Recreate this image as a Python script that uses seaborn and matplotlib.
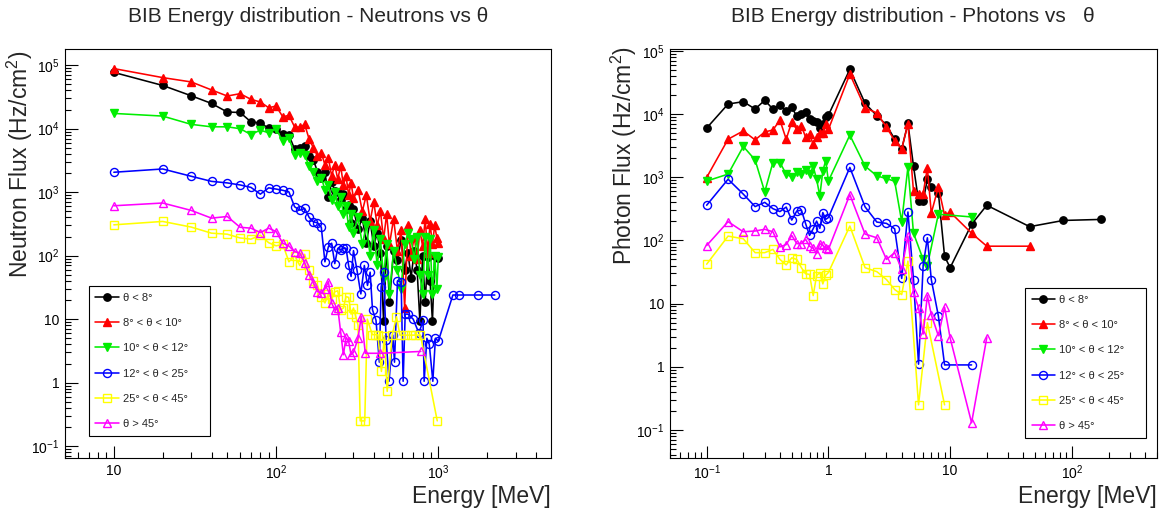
import numpy as np
import pandas as pd
import matplotlib
matplotlib.use("Agg")
import matplotlib.pyplot as plt
import seaborn as sns
from matplotlib.ticker import FixedLocator, FuncFormatter, NullFormatter

# ---------------- data ----------------
LABELS = ["θ < 8°", "8° < θ < 10°", "10° < θ < 12°",
          "12° < θ < 25°", "25° < θ < 45°", "θ > 45°"]

# Neutrons (energy in MeV, flux in Hz/cm2)
N_E = [10, 20, 30, 40, 50, 60, 70, 80, 90, 100,
       110, 120, 130, 140, 150, 160, 170, 180, 190, 200,
       210, 220, 230, 240, 250, 260, 270, 280, 290, 300,
       320, 340, 360, 380, 400, 420, 440, 460, 480, 500,
       530, 560, 590, 620, 650, 680, 710, 740, 770, 800,
       830, 860, 890, 920, 950, 980, 1000]
N_BLACK = [77000, 48000, 33000, 25000, 18300, 18000, 12800, 12300, 10200, 9800,
           8200, 7900, 4800, 4900, 5400, 3700, 3200, 2100, 1700, 2100,
           850, 1430, 1050, 1000, 780, 950, 540, 630, 330, 540,
           260, 390, 160, 350, 140, 230, 110, 9.2, 140, 18.5,
           120, 85, 178, 60, 110, 45, 120, 60, 9.2, 100,
           18.5, 96, 40, 9.2, 100, 100, 91]
N_RED = [88500, 63800, 54500, 40800, 32700, 35600, 29000, 26300, 21400, 22700,
         15400, 16200, 10700, 10500, 11700, 6800, 5000, 3700, 4200, 2700,
         3500, 1800, 2700, 1600, 2600, 1300, 1800, 900, 1400, 800,
         1100, 500, 900, 350, 700, 300, 500, 180, 450, 150,
         380, 120, 250, 15, 300, 100, 200, 90, 250, 140,
         380, 110, 320, 150, 300, 190, 160]
N_GREEN = [17400, 15800, 11700, 10700, 10700, 10000, 8100, 9500, 8600, 10000,
           6300, 7200, 3900, 4200, 3800, 2600, 2100, 1500, 1700, 1100,
           1300, 750, 1000, 600, 850, 450, 600, 280, 450, 230,
           400, 150, 300, 100, 250, 70, 180, 45, 150, 25,
           120, 60, 30, 150, 230, 180, 90, 200, 50, 25,
           200, 50, 180, 25, 100, 30, 95]
N_BLUE_E = [10, 20, 30, 40, 50, 60, 70, 80, 90, 100,
            110, 120, 130, 140, 150, 160, 170, 180, 190, 200,
            210, 220, 230, 240, 250, 260, 270, 280, 290, 300,
            315, 333, 350, 366, 380, 393, 413, 433, 444, 460,
            477, 497, 524, 537, 560, 590, 607, 625, 650, 700,
            760, 805, 818, 850, 880, 925, 960, 1000, 1230, 1350,
            1760, 2230]
N_BLUE = [2060, 2320, 1780, 1480, 1400, 1300, 1190, 930, 1170, 1120,
          1070, 1010, 590, 520, 555, 400, 340, 330, 280, 80,
          138, 157, 75, 130, 125, 130, 131, 70, 47, 120,
          60, 25, 70, 34, 55, 14, 9.6, 2.1, 32, 55,
          4.7, 1.05, 5.6, 2.1, 40, 39, 1.05, 12, 12, 10,
          6, 9.6, 1.05, 5, 4, 1.05, 5, 4.5, 24, 24,
          24, 24]
N_YELLOW_E = [10, 20, 30, 40, 50, 60, 70, 80, 90, 100,
              110, 120, 130, 140, 150, 160, 170, 180, 190, 200,
              210, 220, 230, 240, 250, 260, 270, 280, 290, 300,
              310, 320, 330, 352, 365, 392, 410, 424, 446, 465,
              484, 520, 552, 580, 620, 680, 720, 776, 985]
N_YELLOW = [306, 346, 282, 226, 218, 190, 182, 210, 160, 143,
            150, 80, 100, 70, 105, 60, 40, 34, 22.5, 18,
            25, 21, 27, 28, 14, 15, 22.7, 22, 12, 15,
            11, 8, 0.25, 0.25, 10, 5.7, 5.7, 5.7, 1.5, 5.5,
            0.73, 5.6, 11, 5.6, 5.6, 5.6, 5.6, 5.6, 0.25]
N_MAGENTA_E = [10, 20, 30, 40, 50, 60, 70, 80, 90, 100,
               110, 120, 130, 140, 150, 160, 170, 180, 190, 200,
               210, 220, 230, 240, 250, 260, 270, 280, 290, 300,
               320, 335, 355, 440, 780]
N_MAGENTA = [611, 675, 516, 390, 414, 280, 271, 231, 271, 240,
             157, 142, 116, 110, 78, 50, 37, 27, 26, 30,
             39, 18, 14, 15, 6.3, 2.75, 5.2, 4.5, 2.75, 3.0,
             5, 11, 2.9, 2.9, 3.1]

# Photons
P_E = [0.1, 0.15, 0.2, 0.25, 0.3, 0.35, 0.4, 0.45, 0.5, 0.55,
       0.6, 0.65, 0.7, 0.75, 0.8, 0.85, 0.9, 0.95, 1.0, 1.5,
       2.0, 2.5, 3.0, 3.5, 4.0, 4.5, 5.0, 5.5, 6.0, 6.5,
       7.0, 8.0, 9.0, 10, 15, 20, 45, 85, 175]
P_BLACK = [6000, 14400, 15700, 12000, 16500, 12000, 14000, 11000, 12800, 9200,
           10000, 10900, 8300, 7800, 7400, 6000, 6900, 9100, 9600, 51000,
           14800, 9400, 6700, 4000, 2800, 7100, 1500, 420, 420, 930,
           690, 570, 56, 37, 180, 360, 165, 207, 215]
P_RED_E = [0.1, 0.15, 0.2, 0.25, 0.3, 0.35, 0.4, 0.45, 0.5, 0.55,
           0.6, 0.65, 0.7, 0.75, 0.8, 0.85, 0.9, 0.95, 1.0, 1.5,
           2.0, 2.5, 3.0, 3.5, 4.0, 4.5, 5.0, 5.5, 6.0, 6.5,
           7.0, 8.0, 9.0, 10, 15, 20, 45]
P_RED = [990, 4000, 5400, 3900, 5200, 5600, 8000, 4000, 7500, 5700,
         6500, 4300, 4800, 3300, 4300, 5000, 5000, 6900, 5700, 43000,
         12500, 10400, 6200, 3800, 2800, 7000, 600, 550, 550, 1400,
         270, 700, 250, 280, 130, 81, 81]
P_GREEN_E = [0.1, 0.15, 0.2, 0.25, 0.3, 0.35, 0.4, 0.45, 0.5, 0.55,
             0.6, 0.65, 0.7, 0.75, 0.8, 0.85, 0.9, 0.95, 1.0, 1.5,
             2.0, 2.5, 3.0, 3.5, 4.0, 4.5, 5.0, 6.0, 6.5, 8.0, 15]
P_GREEN = [870, 1120, 3070, 1880, 585, 1710, 1710, 1120, 1010, 1190,
           1120, 1290, 1120, 1480, 930, 505, 1260, 1830, 870, 4640,
           1500, 1050, 950, 865, 198, 1450, 130, 50, 40, 260, 235]
P_BLUE_E = [0.1, 0.15, 0.2, 0.25, 0.3, 0.35, 0.4, 0.45, 0.5, 0.55,
            0.6, 0.65, 0.7, 0.75, 0.8, 0.85, 0.9, 0.95, 1.0, 1.5,
            2.0, 2.5, 3.0, 3.5, 4.0, 4.5, 5.0, 5.5, 6.0, 6.5,
            7.0, 8.0, 9.0, 15]
P_BLUE = [360, 930, 540, 343, 400, 318, 286, 337, 210, 292,
          302, 184, 120, 153, 202, 155, 276, 215, 230, 1430,
          340, 195, 186, 153, 25, 282, 24, 1.1, 40, 110,
          24, 6.4, 1.07, 1.07]
P_YELLOW_E = [0.1, 0.15, 0.2, 0.25, 0.3, 0.35, 0.4, 0.45, 0.5, 0.55,
              0.6, 0.65, 0.7, 0.75, 0.8, 0.85, 0.9, 0.95, 1.0, 1.5,
              2.0, 2.5, 3.0, 3.5, 4.0, 4.5, 5.5, 6.5, 9.0]
P_YELLOW = [42, 117, 106, 64, 64, 72, 50, 41, 53, 50,
            37, 29.6, 29, 13.4, 27.8, 31, 20.5, 28, 31, 169,
            37, 32, 24, 16.7, 13.9, 47, 0.25, 5, 0.25]
P_MAGENTA_E = [0.1, 0.15, 0.2, 0.25, 0.3, 0.35, 0.4, 0.45, 0.5, 0.55,
               0.6, 0.65, 0.7, 0.75, 0.8, 0.85, 0.9, 0.95, 1.0, 1.5,
               2.0, 2.5, 3.0, 3.5, 4.0, 4.5, 5.0, 5.5, 6.0, 6.5,
               7.0, 8.0, 9.0, 10, 15, 20]
P_MAGENTA = [83, 198, 137, 141, 150, 137, 79, 86, 120, 89,
             89, 104, 81, 75, 62, 89, 84, 75, 72, 530,
             126, 110, 50, 64, 35, 117, 15, 8.6, 3.3, 13.4,
             6.7, 3.1, 8.8, 2.85, 0.13, 2.9]

NEUTRON_SERIES = [(N_E, N_BLACK), (N_E, N_RED), (N_E, N_GREEN),
                  (N_BLUE_E, N_BLUE), (N_YELLOW_E, N_YELLOW), (N_MAGENTA_E, N_MAGENTA)]
PHOTON_SERIES = [(P_E, P_BLACK), (P_RED_E, P_RED), (P_GREEN_E, P_GREEN),
                 (P_BLUE_E, P_BLUE), (P_YELLOW_E, P_YELLOW), (P_MAGENTA_E, P_MAGENTA)]

# ---------------- style ----------------
sns.set_style("white")
plt.rcParams["font.family"] = ["Liberation Sans", "DejaVu Sans"]
plt.rcParams["mathtext.fontset"] = "custom"
plt.rcParams["mathtext.rm"] = "Liberation Sans"
plt.rcParams["mathtext.it"] = "Liberation Sans:italic"
plt.rcParams["mathtext.bf"] = "Liberation Sans:bold"

STYLES = [
    dict(color="black", marker="o", mfc="black", ms=5.3),
    dict(color="red", marker="^", mfc="red", ms=5.3),
    dict(color="#00ee00", marker="v", mfc="#00ee00", ms=5.3),
    dict(color="blue", marker="o", mfc="none", ms=5.8),
    dict(color="#ffff00", marker="s", mfc="none", ms=5.5),
    dict(color="magenta", marker="^", mfc="none", ms=5.8),
]

W, H = 1169, 515
fig = plt.figure(figsize=(W / 100, H / 100), dpi=100)
axL = fig.add_axes([65 / W, 57 / H, 486 / W, 409 / H])
axR = fig.add_axes([670 / W, 57 / H, 487 / W, 409 / H])


def draw(ax, series):
    for (E, F), st, lab in zip(series, STYLES, LABELS):
        if len(E) != len(F):
            raise ValueError(f"length mismatch {lab}: {len(E)} vs {len(F)}")
        df = pd.DataFrame({"Energy": E, "Flux": F})
        sns.lineplot(data=df, x="Energy", y="Flux", ax=ax, sort=False,
                     estimator=None, errorbar=None, legend=False,
                     color=st["color"], marker=st["marker"], markersize=st["ms"],
                     markerfacecolor=st["mfc"], markeredgecolor=st["color"],
                     markeredgewidth=1.0, linewidth=1.15, label=lab)


def log_fmt(v, pos):
    e = int(round(np.log10(v)))
    if e == 0:
        return "1"
    if e == 1:
        return "10"
    return r"$\mathregular{10^{%d}}$" % e


def decade_ticks(lo, hi):
    e0, e1 = int(np.floor(np.log10(lo))), int(np.ceil(np.log10(hi)))
    major = [10.0 ** e for e in range(e0, e1 + 1) if lo <= 10.0 ** e <= hi]
    minor = [m * 10.0 ** e for e in range(e0, e1 + 1) for m in range(2, 10)
             if lo <= m * 10.0 ** e <= hi]
    return major, minor


def style_axes(ax, xlim, ylim):
    ax.set_xscale("log")
    ax.set_yscale("log")
    ax.set_xlim(*xlim)
    ax.set_ylim(*ylim)
    for axis, lim in ((ax.xaxis, xlim), (ax.yaxis, ylim)):
        major, minor = decade_ticks(*lim)
        axis.set_major_locator(FixedLocator(major))
        axis.set_minor_locator(FixedLocator(minor))
        axis.set_major_formatter(FuncFormatter(log_fmt))
        axis.set_minor_formatter(NullFormatter())
    ax.tick_params(which="both", direction="in", top=False, right=False,
                   bottom=True, left=True, colors="black", labelsize=10, width=0.8)
    ax.tick_params(which="major", length=9, pad=4)
    ax.tick_params(which="minor", length=4.5)
    for s in ax.spines.values():
        s.set_color("black")
        s.set_linewidth(0.8)
    ax.set_xlabel("")
    ax.set_ylabel("")


draw(axL, NEUTRON_SERIES)
draw(axR, PHOTON_SERIES)
style_axes(axL, (5, 4950), (0.065, 1.8e5))
style_axes(axR, (0.05, 500), (0.036, 1.07e5))

leg_kw = dict(loc="lower left", mode="expand", fontsize=8, frameon=True,
              fancybox=False, edgecolor="black", framealpha=1, borderaxespad=0,
              handlelength=2.1, handletextpad=0.4, labelspacing=1.38, borderpad=0.6)
legL = axL.legend(bbox_to_anchor=(0.049, 0.054, 0.249, 0.36), **leg_kw)
legR = axR.legend(bbox_to_anchor=(0.729, 0.049, 0.248, 0.36), **leg_kw)
for leg in (legL, legR):
    leg.get_frame().set_linewidth(0.8)

# titles and axis titles
fig.text(308 / W, 1 - 17 / H, "BIB Energy distribution - Neutrons vs θ",
         ha="center", va="center", fontsize=15)
fig.text(913 / W, 1 - 17 / H, "BIB Energy distribution - Photons vs   θ",
         ha="center", va="center", fontsize=15)
fig.text(20 / W, 1 - 50 / H, "Neutron Flux (Hz/cm$\\mathregular{^{2}}$)",
         rotation=90, ha="center", va="top", fontsize=16.5)
fig.text(624 / W, 1 - 46 / H, "Photon Flux (Hz/cm$\\mathregular{^{2}}$)",
         rotation=90, ha="center", va="top", fontsize=16.5)
fig.text(551 / W, 1 - 497 / H, "Energy [MeV]", ha="right", va="center", fontsize=16.5)
fig.text(1157 / W, 1 - 497 / H, "Energy [MeV]", ha="right", va="center", fontsize=16.5)

fig.savefig("out.png", dpi=100, facecolor="white")
